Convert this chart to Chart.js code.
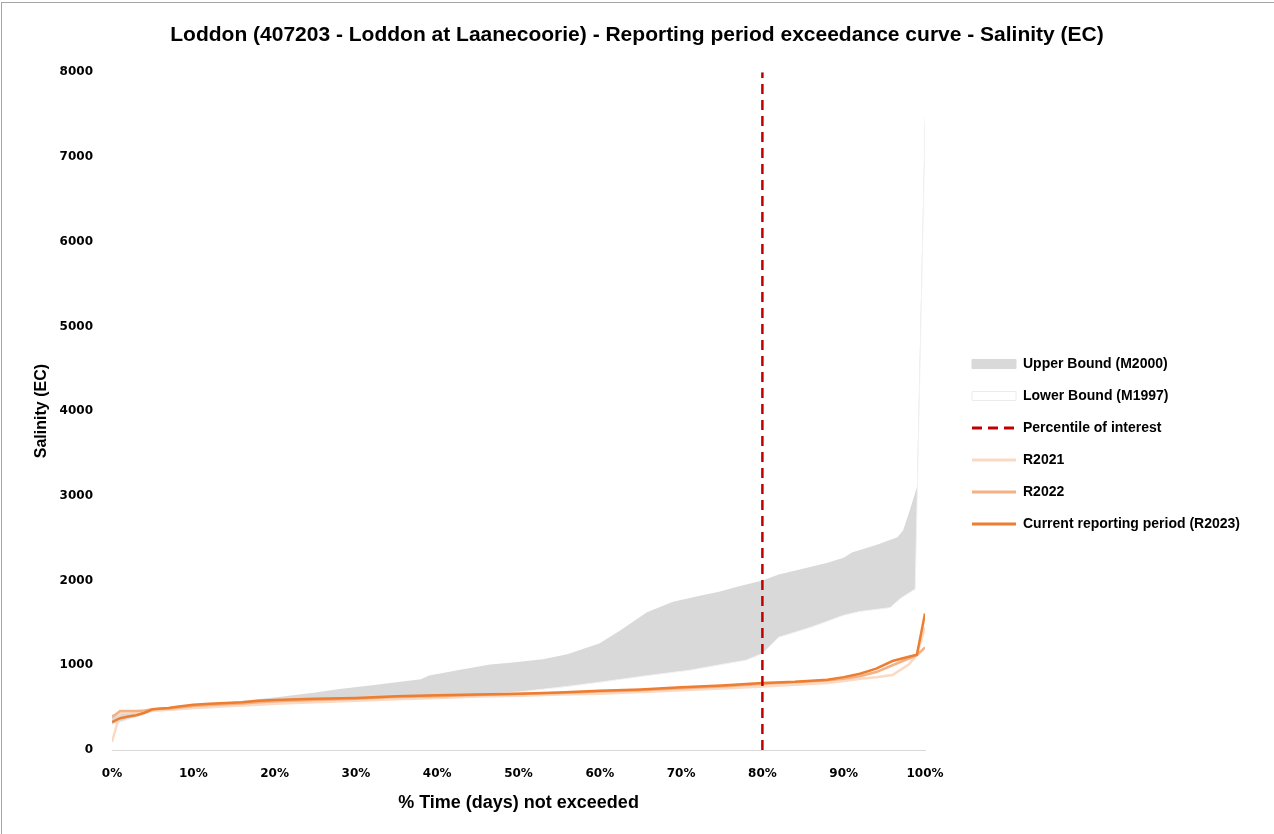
<!DOCTYPE html>
<html>
<head>
<meta charset="utf-8">
<title>Loddon exceedance curve</title>
<script src="https://cdn.jsdelivr.net/npm/chart.js@4.4.1/dist/chart.umd.min.js"></script>
<style>
  html, body { margin: 0; padding: 0; background: #fff; }
  #marco { position: absolute; left: 1px; top: 2px; width: 1273px; height: 832px; border-top: 1px solid #a6a6a6; border-left: 1px solid #a6a6a6; pointer-events: none; }
  canvas { display: block; }
</style>
</head>
<body>
<canvas id="grafico" width="1274" height="834"></canvas>
<div id="marco"></div>
<script>
// Datos (% tiempo no excedido vs salinidad EC)
const pctSuperior = [0, 5, 10, 15, 17, 20, 25, 28, 32, 35, 38, 39, 43, 46.5, 49, 53, 56, 60, 62.5, 65.8, 69, 72.3, 74.8, 77, 80, 82, 84.6, 88, 90, 91, 94, 96.6, 97.3, 98.1, 99, 100];
const limiteSuperior = [420, 490, 540, 570, 590, 620, 680, 720, 765, 800, 835, 880, 950, 1010, 1030, 1070, 1130, 1260, 1410, 1625, 1750, 1820, 1870, 1930, 2000, 2070, 2130, 2210, 2270, 2330, 2420, 2510, 2590, 2820, 3100, 7530];

const pctInferior = [0, 5, 10, 20, 30, 40, 45, 50, 56, 60, 66, 71, 75, 78, 80, 82, 86, 90, 92, 95.7, 97, 98.8, 100];
const limiteInferior = [300, 450, 490, 545, 590, 630, 655, 685, 750, 800, 880, 940, 1010, 1060, 1140, 1330, 1450, 1590, 1635, 1680, 1790, 1900, 7300];

const pctPeriodos = [0, 1, 2, 3, 4, 5, 6, 7, 8, 10, 12, 14, 16, 18, 20, 25, 30, 35, 40, 45, 50, 55, 60, 65, 70, 75, 80, 84, 88, 90, 92, 94, 96, 98, 99, 100];
const r2021 = [95, 440, 440, 445, 450, 465, 470, 475, 480, 495, 505, 515, 525, 535, 545, 565, 580, 600, 615, 630, 640, 655, 665, 685, 705, 725, 750, 770, 790, 815, 840, 860, 885, 1010, 1120, 1450];
const r2022 = [390, 460, 460, 460, 465, 480, 485, 490, 500, 520, 530, 540, 550, 565, 575, 590, 605, 625, 635, 648, 660, 672, 690, 705, 730, 750, 780, 800, 820, 840, 870, 920, 1000, 1080, 1120, 1210];
const r2023 = [330, 375, 395, 410, 440, 480, 490, 495, 510, 535, 545, 555, 565, 580, 590, 605, 615, 635, 645, 655, 665, 680, 700, 715, 740, 760, 790, 805, 830, 860, 900, 960, 1050, 1100, 1125, 1610];

const percentilInteres = 80;
const rangoY = [0, 8000];

const titulo = 'Loddon (407203 - Loddon at Laanecoorie) - Reporting period exceedance curve - Salinity (EC)';

function puntos(xs, ys) {
  return xs.map((x, i) => ({ x: x, y: ys[i] }));
}

const fuenteTexto = 'Liberation Sans, Arial, sans-serif';
const fuenteEjes = 'DejaVu Sans, Verdana, sans-serif';

// Ancho fijo de la leyenda y desplazamiento de sus elementos
const anchoLeyenda = 349;
const desplazLeyenda = { x: 29, y: 29 };

const ajusteLeyenda = {
  id: 'ajusteLeyenda',
  beforeLayout(chart) {
    const leyenda = chart.legend;
    if (leyenda && !leyenda._ajustada) {
      const fitOriginal = leyenda.fit.bind(leyenda);
      leyenda.fit = function() {
        fitOriginal();
        this.width = anchoLeyenda;
      };
      leyenda._ajustada = true;
    }
  },
  afterLayout(chart) {
    const leyenda = chart.legend;
    leyenda.left += desplazLeyenda.x;
    leyenda.right += desplazLeyenda.x;
    leyenda.top += desplazLeyenda.y;
    leyenda.bottom += desplazLeyenda.y;
  }
};

const ctx = document.getElementById('grafico').getContext('2d');

window.grafico = new Chart(ctx, {
  type: 'line',
  data: {
    datasets: [
      {
        label: 'Upper Bound (M2000)',
        data: puntos(pctSuperior, limiteSuperior),
        fill: 'origin',
        backgroundColor: '#d9d9d9',
        borderColor: '#d9d9d9',
        borderWidth: 0,
        pointRadius: 0,
        tension: 0,
        order: 6
      },
      {
        label: 'Lower Bound (M1997)',
        data: puntos(pctInferior, limiteInferior),
        fill: 'origin',
        backgroundColor: '#ffffff',
        borderColor: '#f2f2f2',
        borderWidth: 1,
        pointRadius: 0,
        tension: 0,
        order: 5
      },
      {
        label: 'Percentile of interest',
        data: puntos([percentilInteres, percentilInteres], rangoY),
        borderColor: '#c00000',
        borderWidth: 2.5,
        borderDash: [10, 6],
        pointRadius: 0,
        fill: false,
        order: 1
      },
      {
        label: 'R2021',
        data: puntos(pctPeriodos, r2021),
        borderColor: '#fbd9c2',
        borderWidth: 2.5,
        pointRadius: 0,
        fill: false,
        tension: 0,
        order: 4
      },
      {
        label: 'R2022',
        data: puntos(pctPeriodos, r2022),
        borderColor: '#f4b183',
        borderWidth: 2.5,
        pointRadius: 0,
        fill: false,
        tension: 0,
        order: 3
      },
      {
        label: 'Current reporting period (R2023)',
        data: puntos(pctPeriodos, r2023),
        borderColor: '#ed7d31',
        borderWidth: 2.5,
        pointRadius: 0,
        fill: false,
        tension: 0,
        order: 2
      }
    ]
  },
  plugins: [ajusteLeyenda],
  options: {
    responsive: false,
    animation: false,
    layout: { padding: { left: 0, right: 0, top: 0, bottom: 4 } },
    plugins: {
      tooltip: { enabled: false },
      title: {
        display: true,
        text: titulo,
        color: '#000',
        font: { family: fuenteTexto, size: 21, weight: 'bold' },
        padding: { top: 23, bottom: 24 }
      },
      legend: {
        position: 'right',
        align: 'center',
        labels: {
          color: '#000',
          font: { family: fuenteTexto, size: 14, weight: 'bold' },
          usePointStyle: true,
          pointStyleWidth: 44,
          boxHeight: 9,
          padding: 18,
          sort: (a, b) => a.datasetIndex - b.datasetIndex,
          generateLabels: function(chart) {
            const items = Chart.defaults.plugins.legend.labels.generateLabels(chart);
            items.forEach(item => {
              const ds = chart.data.datasets[item.datasetIndex];
              if (ds.fill === 'origin') {
                item.pointStyle = 'rect';
                item.fillStyle = ds.backgroundColor;
                item.strokeStyle = item.datasetIndex === 0 ? '#d9d9d9' : '#ececec';
                item.lineWidth = 1;
                item.lineDash = [];
              } else {
                item.pointStyle = 'line';
                item.strokeStyle = ds.borderColor;
                item.lineWidth = 3;
                item.lineDash = ds.borderDash || [];
              }
            });
            return items;
          }
        }
      }
    },
    scales: {
      x: {
        type: 'linear',
        min: 0,
        max: 100,
        grid: { display: false, drawTicks: false },
        border: { display: true, color: '#d9d9d9', width: 1 },
        ticks: {
          stepSize: 10,
          padding: 17,
          color: '#000',
          font: { family: fuenteEjes, size: 12, weight: 'bold' },
          callback: v => v + '%'
        },
        title: {
          display: true,
          text: '% Time (days) not exceeded',
          color: '#000',
          font: { family: fuenteTexto, size: 18, weight: 'bold' },
          padding: { top: -6, bottom: 16 }
        }
      },
      y: {
        min: rangoY[0],
        max: rangoY[1],
        grid: { display: false, drawTicks: false },
        border: { display: false },
        ticks: {
          stepSize: 1000,
          padding: 19,
          color: '#000',
          font: { family: fuenteEjes, size: 12, weight: 'bold' },
          callback: v => String(v)
        },
        title: {
          display: true,
          text: 'Salinity (EC)',
          color: '#000',
          font: { family: fuenteTexto, size: 16, weight: 'bold' },
          padding: { top: 32, bottom: 4 }
        },
        afterFit: function(escala) { escala.width = 112; }
      }
    }
  }
});
</script>
</body>
</html>
